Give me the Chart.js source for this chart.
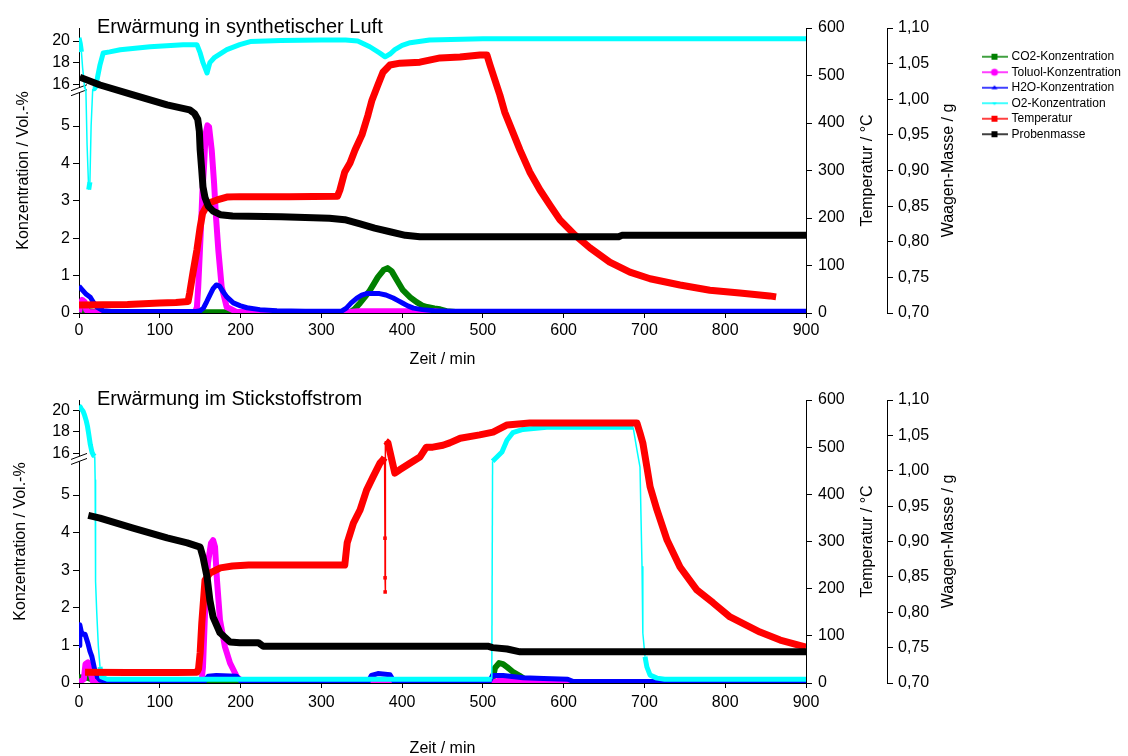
<!DOCTYPE html>
<html>
<head>
<meta charset="utf-8">
<title>Erwärmung</title>
<script src="https://cdn.jsdelivr.net/npm/chart.js@4.4.1/dist/chart.umd.min.js"></script>
<style>
html, body { margin: 0; padding: 0; background: #fff; }
canvas { display: block; }
</style>
</head>
<body>
<canvas id="luftChart" width="1128" height="372"></canvas>
<canvas id="stickChart" width="1128" height="384"></canvas>
<script>
// Reihen: [Zeit / min, Wert]
const seriesNames = ['CO2-Konzentration', 'Toluol-Konzentration', 'H2O-Konzentration', 'O2-Konzentration', 'Temperatur', 'Probenmasse'];
const concTicks = [0, 1, 2, 3, 4, 5, 16, 18, 20];

// --- Erwärmung in synthetischer Luft ---
const luftCO2 = [[0,0.05],[8,0.06],[20,0.03],[35,0.01],[140,0.01],[155,0.02],[190,0.02],[205,0.01],[335,0.01],[341,0.1],[348,0.27],[354,0.43],[360,0.6],[365,0.78],[370,0.96],[377,1.15],[382,1.2],[387,1.12],[394,0.86],[401,0.61],[410,0.42],[418,0.29],[425,0.2],[431,0.16],[440,0.12],[447,0.1],[455,0.05],[470,0.02],[900,0.01]];
const luftToluol = [[0,0.02],[2,0.25],[4,0.35],[7,0.3],[9,0.08],[12,0.02],[140,0.02],[144,0.05],[146,0.16],[147.6,0.7],[150.6,2.1],[152.7,3.2],[154.7,3.9],[156.8,4.8],[159,5.02],[161,4.98],[164.3,4.36],[167.2,3.48],[169.6,2.57],[172.5,1.68],[176.6,0.7],[182.8,0.16],[195,0.03],[335,0.03],[345,0.05],[440,0.05],[450,0.02],[900,0.02]];
const luftH2O = [[0,0.72],[4,0.62],[9,0.5],[14,0.42],[18,0.28],[22,0.16],[30,0.06],[40,0.04],[145,0.04],[150,0.06],[154,0.13],[158,0.3],[162,0.48],[166,0.65],[170,0.75],[174,0.72],[178,0.58],[183,0.43],[191,0.27],[200,0.19],[208,0.14],[224,0.09],[245,0.06],[280,0.05],[325,0.05],[331,0.13],[337,0.27],[344,0.4],[350,0.48],[356,0.52],[364,0.52],[372,0.52],[380,0.48],[389,0.4],[395,0.33],[401,0.26],[407,0.19],[414,0.13],[425,0.09],[440,0.06],[460,0.05],[900,0.05]];
const luftO2 = [[0,20.3],[1.5,19.8],[3,19],[4.5,17.5],[6,16.5],[7,11],[8.5,7],[10,4.5],[12,3.3],[13.5,3.5],[15,5],[17,8],[19,12],[21,15.8],[22.5,16.5],[26,17.8],[30,18.9],[38,19.0],[51,19.2],[88,19.47],[129,19.66],[146,19.66],[150,18.9],[153.5,18.0],[158.5,17.05],[162,18.0],[168,18.5],[183,19.2],[199,19.66],[212,19.95],[250,20.05],[300,20.1],[330,20.1],[345,20.0],[360,19.47],[372,18.9],[379,18.54],[385,18.8],[391,19.2],[400,19.6],[410,19.84],[434,20.1],[500,20.2],[900,20.2]];
const luftTemp = [[0,17],[60,18],[100,21],[120,22],[135,24],[137,42],[141,84],[146,133],[150,181],[153,210],[160,231],[171,238],[183,244],[199,245],[260,245],[320,246],[323,259],[329,297],[335.5,316],[341.7,343],[350.3,375],[357.8,417],[362.7,448],[370,480],[376.3,507],[385,522],[397.4,526],[422,528],[447,537],[471.7,539],[496.4,543],[505,543],[508.8,522],[515,490],[521,459],[527,423],[536,385],[546,343],[558,297],[570.7,259],[583,227],[595.4,196],[614,164],[632.6,137],[657,107],[682,86],[707,72],[744,59],[781,48],[818,42],[855,36],[863,34]];
const luftMasse = [[1,1.031],[26,1.020],[67,1.006],[109,0.992],[137,0.985],[143,0.980],[147,0.972],[149,0.955],[150,0.929],[152,0.90],[153.5,0.877],[156,0.862],[160,0.85],[166,0.843],[175,0.838],[190,0.836],[250,0.835],[310,0.833],[329,0.831],[348,0.825],[366,0.819],[385,0.814],[404,0.809],[422,0.807],[668,0.807],[672,0.809],[900,0.809]];

// --- Erwärmung im Stickstoffstrom ---
const stickCO2 = [[0,0.15],[12,0.13],[18,0.08],[30,0.05],[40,0.01],[510,0.01],[512,0.1],[515,0.4],[520,0.53],[525,0.5],[530,0.42],[537,0.3],[545,0.2],[552,0.1],[560,0.03],[570,0.01],[900,0.01]];
const stickToluol = [[0,0.02],[6,0.1],[8,0.5],[11,0.55],[14,0.3],[17,0.05],[22,0.02],[150,0.02],[152,0.1],[153.5,0.43],[156,1.86],[159.7,3.2],[163.4,3.72],[166,3.8],[168.4,3.62],[170.8,2.74],[174.5,1.68],[180.7,0.96],[187,0.53],[195.6,0.16],[203,0.03],[515,0.03],[518,0.05],[545,0.05],[548,0.02],[900,0.02]];
const stickH2O = [[0,1.0],[1,1.55],[3,1.35],[5,1.3],[7.5,1.3],[11,1.06],[13.5,0.85],[16,0.7],[18,0.5],[20,0.3],[23,0.15],[26,0.08],[35,0.04],[155,0.04],[160,0.18],[170,0.2],[195,0.18],[200,0.06],[210,0.04],[358,0.04],[362,0.2],[370,0.25],[385,0.22],[390,0.04],[508,0.04],[512,0.2],[525,0.2],[550,0.14],[575,0.12],[605,0.1],[612,0.04],[900,0.04]];
const stickO2 = [[0,20.4],[1.5,20.3],[3,20.1],[5,19.9],[7,19.5],[9,19.0],[10.5,18.5],[12,17.8],[14,16.8],[16,16.1],[18,15.8],[19.5,15.7],[20,5.4],[20.5,2.7],[22,1.86],[24,0.96],[26,0.43],[28,0.16],[35,0.1],[511,0.1],[512,5.9],[523.6,16.1],[529.8,17.2],[537,17.9],[549.6,18.2],[579,18.4],[686,18.4],[690.7,16.3],[694.5,5.74],[697,3.09],[698,1.33],[700.7,0.7],[703,0.43],[707,0.21],[715.5,0.13],[725,0.1],[900,0.1]];
const stickTemp = [[7.5,23],[60,22],[120,22],[146,23],[148,30],[150,64],[152,127],[156,218],[162,233],[175,244],[190,248],[210,250],[329,250],[332,297],[339.7,339],[348,367],[356,409],[364,437],[372.6,466],[376.3,473],[378.3,478],[378.8,307],[378.9,223],[379,193],[379.6,513],[382.5,509],[385,490],[391,445],[397,452],[409.7,466],[422,479],[430,500],[438,500],[450.6,504],[459,509],[472,519],[496,526],[512.6,532],[530,547],[558,551],[620,551],[690.7,551],[694.5,530],[698,509],[703,458],[707,416],[715.5,367],[728,303],[744,246],[765,197],[785,170],[806,140],[843,108],[868,91],[900,76]];
const stickMasse = [[11.5,0.937],[26,0.933],[67,0.919],[109,0.905],[134,0.898],[150,0.892],[153.5,0.878],[158.5,0.850],[162,0.817],[166,0.793],[174.5,0.771],[187,0.758],[199,0.757],[222,0.757],[228,0.752],[506,0.752],[512,0.750],[530,0.748],[546,0.744],[900,0.744]];

Chart.defaults.font.family = '"Liberation Sans", Arial, Helvetica, sans-serif';
Chart.defaults.font.size = 16;
Chart.defaults.color = '#000';

// y-Achse mit Bruch zwischen 6 und 15,6 Vol.-%
class BrokenScale extends Chart.LinearScale {
	buildTicks() {
		return concTicks.map(v => ({value: v}));
	}
	_frac(v) {
		const o = this.options;
		if (v <= o.breakLow) return (v - this.min) / (o.breakLow - this.min) * o.lowFraction;
		if (v < o.breakHigh) return o.lowFraction;
		return o.lowFraction + (v - o.breakHigh) / (this.max - o.breakHigh) * (1 - o.lowFraction);
	}
	getPixelForValue(value) {
		if (value === null || isNaN(value)) return NaN;
		return this.getPixelForDecimal(this._frac(value));
	}
	getValueForPixel(pixel) {
		const o = this.options;
		const f = this.getDecimalForPixel(pixel);
		if (f <= o.lowFraction) return this.min + f / o.lowFraction * (o.breakLow - this.min);
		return o.breakHigh + (f - o.lowFraction) / (1 - o.lowFraction) * (this.max - o.breakHigh);
	}
}
BrokenScale.id = 'broken';
Chart.register(BrokenScale);

const colors = ['#008000', '#ff00ff', '#0000ff', '#00ffff', '#ff0000', '#000000'];
const markerShapes = ['rect', 'circle', 'tri', 'tridown', 'rect', 'rect'];

function legendMarker(color, shape) {
	const c = document.createElement('canvas');
	c.width = 26;
	c.height = 10;
	const g = c.getContext('2d');
	g.strokeStyle = color;
	g.fillStyle = color;
	g.lineWidth = 1.5;
	g.beginPath();
	g.moveTo(0, 5);
	g.lineTo(26, 5);
	g.stroke();
	g.beginPath();
	if (shape === 'rect') g.rect(10, 2, 6, 6);
	else if (shape === 'circle') g.arc(13, 5, 3.5, 0, Math.PI * 2);
	else if (shape === 'tri') { g.moveTo(13, 2.5); g.lineTo(16, 6.5); g.lineTo(10, 6.5); g.closePath(); }
	else { g.moveTo(10.5, 4); g.lineTo(15.5, 4); g.lineTo(13, 7); g.closePath(); }
	g.fill();
	return c;
}
const legendMarkers = colors.map((c, i) => legendMarker(c, markerShapes[i]));

function pts(a) {
	return a.map(p => ({x: p[0], y: p[1]}));
}

// steile O2-Abschnitte dünn zeichnen
const thinSteep = c => (Math.abs(c.p1.y - c.p0.y) > 3 * Math.abs(c.p1.x - c.p0.x) + 6 ? 1.5 : undefined);

function buildDatasets(s) {
	const yAxes = ['yc', 'yc', 'yc', 'yc', 'yt', 'ym'];
	const widths = [6, 6, 5, 5, 7, 7];
	return s.map((arr, i) => ({
		label: seriesNames[i],
		data: pts(arr),
		yAxisID: yAxes[i],
		borderColor: colors[i],
		backgroundColor: colors[i],
		borderWidth: widths[i],
		borderJoinStyle: 'round',
		order: 6 - i,
		segment: i === 3 ? {borderWidth: thinSteep} : undefined
	}));
}

const axisGrid = {drawOnChartArea: false, color: '#000', tickLength: 6, lineWidth: 1};
const axisBorder = {display: true, color: '#000', width: 1};

function makeScales(p) {
	return {
		x: {
			type: 'linear', min: 0, max: 900,
			ticks: {stepSize: 100, padding: p.xTickPad, autoSkip: false, maxRotation: 0},
			grid: Object.assign({}, axisGrid, {tickLength: 5}),
			border: axisBorder,
			title: {display: true, text: 'Zeit / min', font: {size: 16, lineHeight: p.xTitleLH}, padding: {top: 0, bottom: p.xTitlePad}},
			afterFit: s => { s.height = p.xHeight; }
		},
		yc: {
			type: 'broken', position: 'left', min: 0, max: p.concMax,
			breakLow: 6, breakHigh: 15.6, lowFraction: p.lowFraction,
			ticks: {autoSkip: false, padding: 3, callback: v => String(v)},
			grid: axisGrid,
			border: axisBorder,
			title: {display: true, text: 'Konzentration / Vol.-%', padding: {top: p.yTitlePad, bottom: 0}},
			afterFit: s => { s.width = 79; }
		},
		yt: {
			type: 'linear', position: 'right', min: 0, max: 600,
			ticks: {stepSize: 100, padding: 6},
			grid: axisGrid,
			border: axisBorder,
			afterFit: s => { s.width = 81; }
		},
		ym: {
			type: 'linear', position: 'right', min: 0.7, max: 1.1,
			ticks: {stepSize: 0.05, padding: 5, callback: v => v.toFixed(2).replace('.', ',')},
			grid: axisGrid,
			border: axisBorder,
			afterFit: s => { s.width = 93; }
		}
	};
}

function decorPlugin(title, baseline) {
	return {
		id: 'decor',
		beforeDatasetsDraw(chart) {
			const ctx = chart.ctx;
			const yc = chart.scales.yc;
			const by = yc.getPixelForValue(6);
			const ax = yc.right;
			ctx.save();
			ctx.fillStyle = '#fff';
			ctx.beginPath();
			ctx.moveTo(ax - 8, by + 2);
			ctx.lineTo(ax + 8, by - 4);
			ctx.lineTo(ax + 8, by + 1);
			ctx.lineTo(ax - 8, by + 7);
			ctx.closePath();
			ctx.fill();
			ctx.strokeStyle = '#000';
			ctx.lineWidth = 1;
			ctx.beginPath();
			ctx.moveTo(ax - 8, by + 2);
			ctx.lineTo(ax + 8, by - 4);
			ctx.moveTo(ax - 8, by + 7);
			ctx.lineTo(ax + 8, by + 1);
			ctx.stroke();
			ctx.restore();
		},
		afterDraw(chart) {
			const ctx = chart.ctx;
			const area = chart.chartArea;
			const midY = (area.top + area.bottom) / 2;
			ctx.save();
			ctx.fillStyle = '#000';
			ctx.font = '20px "Liberation Sans", Arial, sans-serif';
			ctx.textAlign = 'left';
			ctx.textBaseline = 'alphabetic';
			ctx.fillText(title, area.left + 18, baseline);
			ctx.font = '16px "Liberation Sans", Arial, sans-serif';
			ctx.textAlign = 'center';
			ctx.textBaseline = 'middle';
			[[chart.scales.yt, 'Temperatur / °C'], [chart.scales.ym, 'Waagen-Masse / g']].forEach(([s, text]) => {
				ctx.save();
				ctx.translate(s.left + 62, midY);
				ctx.rotate(-Math.PI / 2);
				ctx.fillText(text, 0, 0);
				ctx.restore();
			});
			ctx.restore();
		}
	};
}

const legendWidth = {
	id: 'legendWidth',
	beforeInit(chart) {
		const lg = chart.legend;
		if (!lg) return;
		const fit = lg.fit;
		lg.fit = function () {
			fit.call(this);
			this.width = 148;
		};
	}
};

const luftDatasets = buildDatasets([luftCO2, luftToluol, luftH2O, luftO2, luftTemp, luftMasse]);
const stickDatasets = buildDatasets([stickCO2, stickToluol, stickH2O, stickO2, stickTemp, stickMasse]);

// Temperatursprung bei ca. 379 min: dünne Linie mit Punkten
stickDatasets[4].segment = {borderWidth: c => (c.p1.parsed.x - c.p0.parsed.x < 1 ? 1.5 : undefined)};
stickDatasets[4].pointRadius = c => (c.raw && c.raw.x > 378.5 && c.raw.x < 379.3 ? 2.5 : 0);
stickDatasets[4].pointStyle = 'rect';
stickDatasets[4].pointBorderWidth = 0;

new Chart(document.getElementById('luftChart'), {
	type: 'line',
	data: {datasets: luftDatasets},
	options: {
		responsive: false,
		animation: false,
		events: [],
		layout: {padding: {top: 28, right: 0, bottom: 0, left: 0}},
		elements: {point: {radius: 0}, line: {tension: 0}},
		scales: makeScales({xTickPad: 2.5, xTitleLH: 1.2, xTitlePad: 2.4, xHeight: 59, concMax: 21.2, lowFraction: 0.787, yTitlePad: 14.4}),
		plugins: {
			tooltip: {enabled: false},
			legend: {
				position: 'right',
				align: 'start',
				title: {display: true, text: ' ', font: {size: 12}, padding: {top: 4.8, bottom: 0}},
				labels: {
					font: {size: 12},
					color: '#000',
					usePointStyle: true,
					pointStyleWidth: 22,
					padding: 3.5,
					sort: (a, b) => a.datasetIndex - b.datasetIndex,
					generateLabels(chart) {
						const items = Chart.defaults.plugins.legend.labels.generateLabels(chart);
						items.forEach(it => {
							it.pointStyle = legendMarkers[it.datasetIndex];
							it.rotation = 0;
						});
						return items;
					}
				}
			}
		}
	},
	plugins: [legendWidth, decorPlugin('Erwärmung in synthetischer Luft', 32.5)]
});

new Chart(document.getElementById('stickChart'), {
	type: 'line',
	data: {datasets: stickDatasets},
	options: {
		responsive: false,
		animation: false,
		events: [],
		layout: {padding: {top: 28, right: 148, bottom: 0, left: 0}},
		elements: {point: {radius: 0}, line: {tension: 0}},
		scales: makeScales({xTickPad: 5.4, xTitleLH: 1, xTitlePad: -1, xHeight: 73, concMax: 20.94, lowFraction: 0.797, yTitlePad: 11.4}),
		plugins: {
			tooltip: {enabled: false},
			legend: {display: false}
		}
	},
	plugins: [decorPlugin('Erwärmung im Stickstoffstrom', 33)]
});
</script>
</body>
</html>
